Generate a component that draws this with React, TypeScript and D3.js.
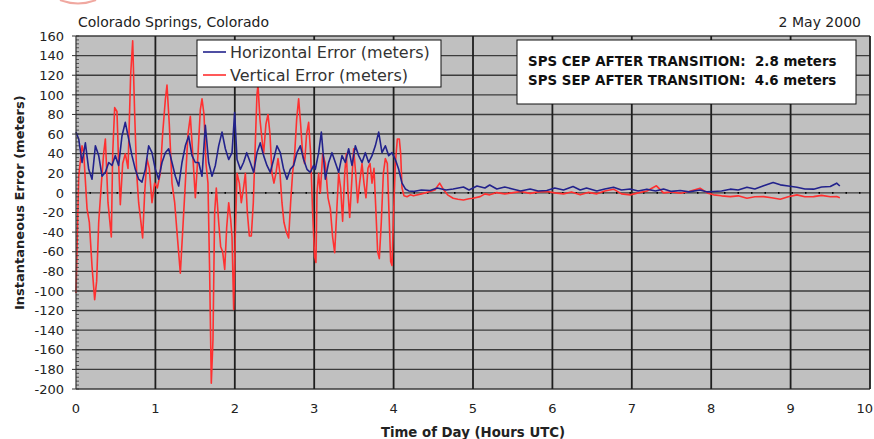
import React from "react";
import * as d3 from "d3";

// ---- data ----
const xTicks = [0, 1, 2, 3, 4, 5, 6, 7, 8, 9, 10];
const yTicks = [160, 140, 120, 100, 80, 60, 40, 20, 0, -20, -40, -60, -80, -100, -120, -140, -160, -180, -200];

const horizHours = [
  0.0, 0.034, 0.076, 0.118, 0.16, 0.202, 0.244, 0.286, 0.328, 0.37, 0.412, 0.453, 0.495, 0.537, 0.579, 0.621, 0.663, 0.705, 0.747, 0.789,
  0.831, 0.873, 0.915, 0.957, 0.999, 1.041, 1.083, 1.125, 1.167, 1.209, 1.251, 1.293, 1.335, 1.377, 1.419, 1.461, 1.503,
  1.545, 1.587, 1.629, 1.671, 1.713, 1.755, 1.797, 1.839, 1.881, 1.923, 1.965, 1.998, 2.028, 2.07, 2.11, 2.15, 2.195, 2.237,
  2.279, 2.32, 2.363, 2.405, 2.447, 2.489, 2.531, 2.573, 2.615, 2.657, 2.699, 2.741, 2.783, 2.825, 2.867, 2.909, 2.951, 2.993,
  3.014, 3.056, 3.09, 3.14, 3.182, 3.224, 3.266, 3.308, 3.35, 3.392, 3.434, 3.476, 3.518, 3.56, 3.602, 3.644, 3.686, 3.728,
  3.77, 3.812, 3.854, 3.896, 3.938, 3.98, 4.022, 4.064, 4.106, 4.148,
  4.19, 4.25, 4.35, 4.46, 4.55, 4.66, 4.75, 4.88, 4.95, 5.05, 5.15, 5.21, 5.3, 5.4, 5.51, 5.6, 5.72, 5.82, 5.93, 6.03, 6.14,
  6.26, 6.35, 6.43, 6.56, 6.66, 6.77, 6.87, 6.98, 7.08, 7.19, 7.3, 7.4, 7.5, 7.61, 7.72, 7.86, 7.95, 8.03, 8.13, 8.24, 8.34,
  8.45, 8.55, 8.66, 8.78, 8.87, 8.97, 9.08, 9.18, 9.29, 9.39, 9.5, 9.58, 9.62,
];
const horizError = [
  62, 55, 31, 51, 24, 14, 48, 38, 17, 21, 31, 28, 38, 28, 58, 72, 55, 38, 24, 14,
  11, 24, 48, 41, 24, 14, 31, 41, 45, 31, 17, 7, 31, 48, 58, 38, 31,
  31, 17, 69, 31, 17, 28, 48, 62, 45, 34, 41, 82, 34, 24, 31, 41, 31, 21,
  41, 51, 38, 28, 21, 34, 48, 41, 24, 14, 24, 28, 41, 48, 34, 24, 21, 28,
  24, 41, 62, 14, 31, 41, 31, 21, 38, 31, 45, 28, 48, 38, 31, 41, 31, 38,
  48, 62, 41, 48, 38, 41, 34, 24, 10, 4,
  2, 1.5, 3, 2.5, 5, 3, 4, 6, 3, 7, 5, 8, 4, 6, 3.8, 2, 4, 2, 2.4, 5, 3,
  6.5, 3, 5, 2, 4, 5.8, 3, 4, 2, 3.8, 2, 4, 1.5, 2.4, 1, 3, 1, 1.4, 2, 3.8, 3,
  5.8, 4, 7.2, 10.6, 8.2, 7, 5.8, 4, 3.8, 6, 6.5, 9.9, 7,
];

const vertHours = [
  0.0, 0.034, 0.076, 0.097, 0.139, 0.168, 0.202, 0.235, 0.26, 0.286, 0.32, 0.348, 0.37, 0.403, 0.445, 0.462, 0.487, 0.516,
  0.537, 0.558, 0.588, 0.621, 0.655, 0.688, 0.714, 0.739, 0.764, 0.789, 0.818, 0.839, 0.865, 0.894, 0.923, 0.957, 0.99,
  1.024, 1.062, 1.091, 1.125, 1.146, 1.175, 1.209, 1.243, 1.272, 1.314, 1.343, 1.377, 1.41, 1.44, 1.47, 1.503,
  1.537, 1.566, 1.587, 1.612, 1.637, 1.662, 1.683, 1.704, 1.725, 1.746, 1.767, 1.797, 1.822, 1.847, 1.873, 1.898, 1.923,
  1.948, 1.965, 1.986, 2.007, 2.028, 2.057, 2.082, 2.11, 2.133, 2.158, 2.183, 2.208, 2.233, 2.258, 2.279, 2.292, 2.317,
  2.342, 2.363, 2.392, 2.418, 2.443, 2.468, 2.493, 2.518, 2.544, 2.569, 2.594, 2.619, 2.649, 2.678, 2.703, 2.728, 2.754,
  2.779, 2.804, 2.829, 2.854, 2.879, 2.904, 2.93, 2.955, 2.98, 3.005, 3.022,
  3.035, 3.056, 3.077, 3.107, 3.14, 3.174, 3.203, 3.232, 3.258, 3.283, 3.308, 3.333, 3.358, 3.384, 3.405, 3.426, 3.447,
  3.472, 3.497, 3.522, 3.547, 3.572, 3.602, 3.627, 3.652, 3.677, 3.703, 3.728, 3.753, 3.778, 3.799, 3.82, 3.845, 3.871,
  3.896, 3.921, 3.942, 3.963, 3.98, 4.0, 4.022, 4.047, 4.072, 4.089, 4.106, 4.131, 4.169, 4.211,
  4.25, 4.35, 4.46, 4.52, 4.58, 4.63, 4.68, 4.75, 4.81, 4.88, 4.95, 5.0, 5.09, 5.15, 5.21, 5.3, 5.4, 5.51, 5.6, 5.72, 5.82,
  5.93, 6.03, 6.14, 6.24, 6.35, 6.45, 6.56, 6.66, 6.77, 6.87, 6.98, 7.08, 7.19, 7.31, 7.4, 7.5, 7.61, 7.72, 7.86, 7.95,
  8.03, 8.13, 8.24, 8.34, 8.45, 8.55, 8.66, 8.76, 8.87, 8.97, 9.08, 9.18, 9.29, 9.39, 9.5, 9.58, 9.62,
];
const vertError = [
  -102, 17, 48, 41, -16, -30, -75, -109, -90, -30, 10, 40, 55, -10, -45, 40, 87, 83,
  30, -12, 30, 40, 25, 120, 155, 80, 20, -10, -30, -46, 0, 35, 25, -10, 10,
  5, 20, 60, 95, 110, 70, 10, -10, -40, -82, -40, 10, 60, 78, 40, -5,
  40, 85, 96, 80, 30, 10, -80, -194, -150, -20, 5, -30, -55, -60, -78, -35, -10,
  -27, -45, -119, -40, 20, 10, -10, 5, 20, -20, -44, -44, -10, 50, 100, 110, 75,
  55, 40, 70, 80, 60, 20, 10, 20, 35, 20, -10, -30, -40, -46, -10, 20, 40,
  75, 96, 70, 40, 30, 60, 72, 40, -20, -65, -71,
  0, 20, 0, 40, 30, -5, -16, -45, -61, -20, 20, 5, -29, 20, 40, 0, -25,
  10, 45, 20, -10, 10, 30, 10, -5, 25, 30, 10, 25, -20, -60, -67, -30, 20,
  35, 30, -20, -70, -74, -20, 30, 55, 55, 40, 5, -3, -4, -2,
  -3, -1, 1.4, 3, 10, 3.1, -2, -5.5, -6.5, -7.2, -6, -5.5, -3.8, -1, -2, 0.3, -1, 0.3, 1.5, -0.5, 1,
  1.4, 0, -1, 1, -2, 0.5, -1, 2, 3.8, -1, -2, 0, 2, 7.2, 0, 1, -0.3, 1.5, 4.8, 0,
  -2, -3, -3.8, -3, -5.5, -4, -3.8, -5, -6.5, -4, -2, -4, -3.8, -2.5, -4, -3.8, -5,
];

const titleLeft = "Colorado Springs, Colorado";
const titleRight = "2 May 2000";
const xLabel = "Time of Day (Hours UTC)";
const yLabel = "Instantaneous Error (meters)";
const seriesNames = ["Horizontal Error (meters)", "Vertical Error (meters)"];
const noteLines = ["SPS CEP AFTER TRANSITION:  2.8 meters", "SPS SEP AFTER TRANSITION:  4.6 meters"];

const W = 874;
const H = 439;
const FONT = "'DejaVu Sans', Verdana, sans-serif";
const BLUE = "#22228c";
const RED = "#ff3030";

export default function App() {
  const x = d3.scaleLinear().domain([0, 10]).range([76, 870]);
  const y = d3.scaleLinear().domain([-200, 160]).range([389, 36]);

  const horiz = horizHours.map((h, i) => [h, horizError[i]] as [number, number]);
  const vert = vertHours.map((h, i) => [h, vertError[i]] as [number, number]);
  const line = d3
    .line<[number, number]>()
    .x((d) => x(d[0]))
    .y((d) => y(d[1]));

  const minorTicks = d3.range(-200, 161, 4);
  const gridY = d3.range(-200, 161, 20);

  return (
    <svg
      width={W}
      height={H}
      viewBox={`0 0 ${W} ${H}`}
      style={{ position: "absolute", left: 0, top: 0, background: "#fff" }}
    >
      {/* logo fragment */}
      <path d="M60,0 Q78,7 96,0" fill="none" stroke="#f0a8a0" strokeWidth={2} />

      {/* titles */}
      <text x={78} y={27} fontFamily={FONT} fontSize={14} fill="#222">
        {titleLeft}
      </text>
      <text x={861} y={27} fontFamily={FONT} fontSize={14} fill="#222" textAnchor="end">
        {titleRight}
      </text>

      {/* plot background */}
      <rect x={x(0)} y={y(160)} width={x(10) - x(0)} height={y(-200) - y(160)} fill="#c0c0c0" />

      {/* horizontal grid */}
      {gridY.map((v) => (
        <line key={"gy" + v} x1={x(0)} x2={x(10)} y1={y(v)} y2={y(v)} stroke="#3c3c3c" strokeWidth={1.4} />
      ))}
      {/* zero dotted line */}
      <line x1={x(0)} x2={x(10)} y1={y(0)} y2={y(0)} stroke="#000" strokeWidth={1.6} strokeDasharray="1.5 12" />

      {/* vertical grid */}
      {xTicks.slice(1).map((h) => (
        <line key={"gx" + h} x1={x(h)} x2={x(h)} y1={y(160)} y2={y(-200)} stroke="#1e1e1e" strokeWidth={1.8} />
      ))}

      {/* series */}
      <path d={line(vert) || ""} fill="none" stroke={RED} strokeWidth={1.6} strokeLinejoin="round" />
      <path d={line(horiz) || ""} fill="none" stroke={BLUE} strokeWidth={1.6} strokeLinejoin="round" />

      {/* y axis */}
      <line x1={x(0)} x2={x(0)} y1={y(160)} y2={y(-200)} stroke="#333" strokeWidth={1.2} />
      {minorTicks.map((v) => (
        <line key={"mt" + v} x1={x(0)} x2={x(0) + 3} y1={y(v)} y2={y(v)} stroke="#333" strokeWidth={0.8} />
      ))}
      {yTicks.map((v) => (
        <g key={"yt" + v}>
          <line x1={x(0) - 4} x2={x(0)} y1={y(v)} y2={y(v)} stroke="#333" strokeWidth={1} />
          <text x={64} y={y(v)} dy="0.36em" textAnchor="end" fontFamily={FONT} fontSize={13} fill="#222">
            {v}
          </text>
        </g>
      ))}
      {xTicks.map((h) => (
        <text
          key={"xt" + h}
          x={h === 10 ? 873 : x(h)}
          y={413}
          textAnchor={h === 10 ? "end" : "middle"}
          fontFamily={FONT}
          fontSize={13}
          fill="#222"
        >
          {h}
        </text>
      ))}

      {/* axis labels */}
      <text x={x(5)} y={437} textAnchor="middle" fontFamily={FONT} fontSize={13.3} fontWeight="bold" fill="#222">
        {xLabel}
      </text>
      <text
        transform={`translate(24, ${y(-10)}) rotate(-90)`}
        textAnchor="middle"
        fontFamily={FONT}
        fontSize={13}
        fontWeight="bold"
        fill="#222"
      >
        {yLabel}
      </text>

      {/* legend */}
      <rect x={197} y={40} width={244} height={47} fill="#fff" stroke="#111" strokeWidth={1} />
      <line x1={203} x2={226} y1={52} y2={52} stroke={BLUE} strokeWidth={1.6} />
      <text x={230} y={57.5} fontFamily={FONT} fontSize={16} fill="#333">
        {seriesNames[0]}
      </text>
      <line x1={203} x2={226} y1={75} y2={75} stroke={RED} strokeWidth={1.6} />
      <text x={230} y={80.5} fontFamily={FONT} fontSize={16} fill="#333">
        {seriesNames[1]}
      </text>

      {/* note box */}
      <rect x={517} y={40} width={339} height={64} fill="#fff" stroke="#111" strokeWidth={1} />
      {noteLines.map((t, i) => (
        <text
          key={"n" + i}
          x={528}
          y={66 + i * 19}
          fontFamily={FONT}
          fontSize={13.4}
          fontWeight="bold"
          fill="#111"
          style={{ whiteSpace: "pre" }}
        >
          {t}
        </text>
      ))}
    </svg>
  );
}
